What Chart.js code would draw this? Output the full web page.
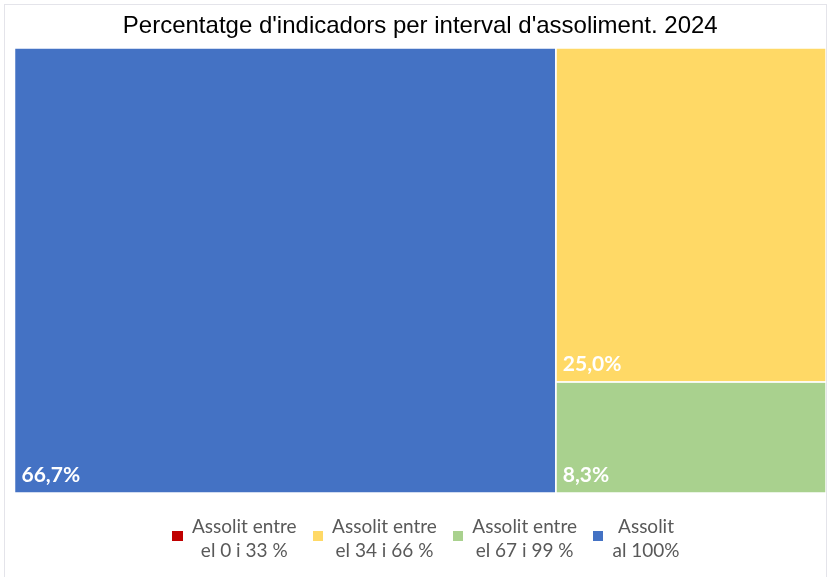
<!DOCTYPE html>
<html>
<head>
<meta charset="utf-8">
<script src="https://cdn.jsdelivr.net/npm/chart.js@4"></script>
<style>
  body { margin: 0; background: #fff; }
  #wrap { position: relative; width: 829px; height: 577px; overflow: hidden; }
  #frame { position: absolute; left: 4px; top: 4px; width: 823px; height: 580px; border: 1px solid #e4e4ea; box-sizing: border-box; }
  #legend { position: absolute; left: 0; top: 513.5px; width: 829px; padding-left: 23px; box-sizing: border-box;
            display: flex; justify-content: center; font-family: Lato, sans-serif; font-size: 19px; color: #595959; }
  .item { display: flex; align-items: center; margin-right: 16px; }
  .item:last-child { margin-right: 0; }
  .box { width: 10.5px; height: 10.5px; margin-right: 9px; position: relative; top: -1.5px; }
  .txt { text-align: center; line-height: 24px; }
</style>
</head>
<body>
<div id="wrap">
  <div id="frame"></div>
  <canvas id="treemap" width="829" height="577"></canvas>
  <div id="legend"></div>
</div>
<script>
// categories (legend lines) and share of indicators per band, %
const categoryLines = [
    ['Assolit entre', 'el 0 i 33 %'],
    ['Assolit entre', 'el 34 i 66 %'],
    ['Assolit entre', 'el 67 i 99 %'],
    ['Assolit', 'al 100%']
];
const percentages = [0, 25.0, 8.3, 66.7];
const colors = ['#C00000', '#FFD966', '#A9D18E', '#4472C4'];
const chartTitle = "Percentatge d'indicadors per interval d'assoliment. 2024";

// squarified treemap layout inside a pixel rectangle
function layoutTreemap(vals, x0, y0, x1, y1) {
    const items = vals.map((v, i) => ({ v, i })).filter(d => d.v > 0).sort((a, b) => b.v - a.v);
    const total = items.reduce((s, d) => s + d.v, 0);
    const k = (x1 - x0) * (y1 - y0) / total;
    items.forEach(d => d.a = d.v * k);
    const out = [];
    let rect = { x: x0, y: y0, w: x1 - x0, h: y1 - y0 };
    const worst = (row, side) => {
        const s = row.reduce((a, d) => a + d.a, 0);
        let m = 0;
        row.forEach(d => {
            m = Math.max(m, side * side * d.a / (s * s), s * s / (side * side * d.a));
        });
        return m;
    };
    const place = row => {
        const s = row.reduce((a, d) => a + d.a, 0);
        if (rect.w >= rect.h) {
            const w = s / rect.h;
            let y = rect.y;
            row.forEach(d => { const h = d.a / w; out[d.i] = { x: rect.x, y, w, h }; y += h; });
            rect = { x: rect.x + w, y: rect.y, w: rect.w - w, h: rect.h };
        } else {
            const h = s / rect.w;
            let x = rect.x;
            row.forEach(d => { const w = d.a / h; out[d.i] = { x, y: rect.y, w, h }; x += w; });
            rect = { x: rect.x, y: rect.y + h, w: rect.w, h: rect.h - h };
        }
    };
    let row = [];
    let i = 0;
    while (i < items.length) {
        const side = Math.min(rect.w, rect.h);
        const d = items[i];
        if (row.length === 0 || worst(row.concat(d), side) <= worst(row, side)) {
            row.push(d);
            i++;
        } else {
            place(row);
            row = [];
        }
    }
    if (row.length) place(row);
    return out;
}

const fmt = v => v.toFixed(1).replace('.', ',') + '%';

const treemapPlugin = {
    id: 'treemap',
    beforeDatasetsDraw(chart) {
        const ctx = chart.ctx;
        const xs = chart.scales.x, ys = chart.scales.y;
        const vals = chart.data.datasets.map(ds => ds.value);
        const rects = layoutTreemap(vals, xs.getPixelForValue(0), ys.getPixelForValue(100),
                                    xs.getPixelForValue(100), ys.getPixelForValue(0));
        ctx.save();
        chart.data.datasets.forEach((ds, i) => {
            const r = rects[i];
            if (!r) return;
            ctx.fillStyle = ds.backgroundColor;
            ctx.fillRect(r.x, r.y, r.w, r.h);
            ctx.strokeStyle = '#ffffff';
            ctx.lineWidth = 1.5;
            ctx.strokeRect(r.x, r.y, r.w, r.h);
        });
        ctx.fillStyle = '#ffffff';
        ctx.font = 'bold 21px Lato';
        ctx.textAlign = 'left';
        ctx.textBaseline = 'alphabetic';
        chart.data.datasets.forEach((ds, i) => {
            const r = rects[i];
            if (!r) return;
            ctx.fillText(fmt(ds.value), r.x + 7, r.y + r.h - 11);
        });
        ctx.restore();
    }
};

const ctx = document.getElementById('treemap').getContext('2d');

const data = {
    datasets: categoryLines.map((lines, i) => ({
        label: lines.join(' '),
        value: percentages[i],
        data: [],
        backgroundColor: colors[i]
    }))
};

const config = {
    type: 'scatter',
    data: data,
    options: {
        responsive: false,
        animation: false,
        layout: {
            padding: { top: 0, left: 14.5, right: 3, bottom: 84 }
        },
        scales: {
            x: { type: 'linear', min: 0, max: 100, display: false },
            y: { type: 'linear', min: 0, max: 100, display: false }
        },
        plugins: {
            legend: { display: false },
            tooltip: { enabled: false },
            title: {
                display: true,
                text: chartTitle,
                color: '#000000',
                font: { family: 'Liberation Sans', size: 24, weight: 'normal' },
                padding: { top: 11.6, bottom: 7.6 }
            }
        }
    },
    plugins: [treemapPlugin]
};

const treemapChart = new Chart(ctx, config);

// legend below the plot
const legend = document.getElementById('legend');
categoryLines.forEach((lines, i) => {
    const item = document.createElement('div');
    item.className = 'item';
    const box = document.createElement('div');
    box.className = 'box';
    box.style.background = colors[i];
    const txt = document.createElement('div');
    txt.className = 'txt';
    txt.innerHTML = lines.join('<br>');
    item.appendChild(box);
    item.appendChild(txt);
    legend.appendChild(item);
});
</script>
</body>
</html>
